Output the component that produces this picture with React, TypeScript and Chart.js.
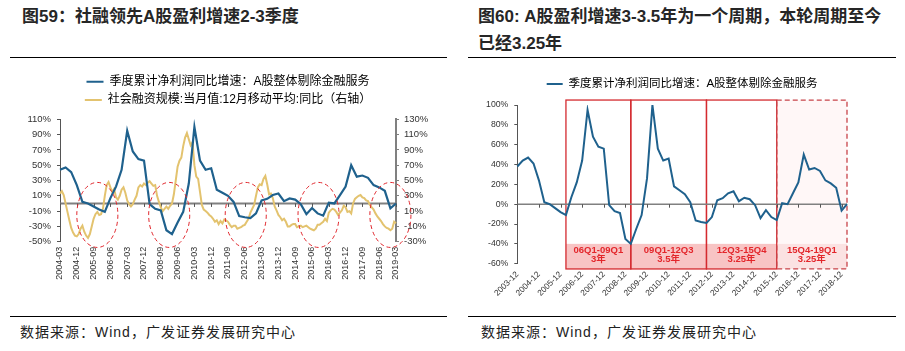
import React, { useEffect, useRef } from 'react';
import { Chart, registerables } from 'chart.js';

Chart.register(...registerables);

const FONT_LATIN = "'Liberation Sans', Arial, sans-serif";
const FONT_MIX = "'Liberation Sans', 'Noto Sans CJK SC', sans-serif";
const BLUE = '#1F618D';
const YELLOW = '#E3C36F';
const RED = '#D42A2F';

// ---------- categories ----------
const quarterLabels: string[] = [];
for (let yr = 2003; yr <= 2019; yr++) {
  for (const m of ['03', '06', '09', '12']) {
    const k = `${yr}-${m}`;
    if (k >= '2003-12' && k <= '2019-03') quarterLabels.push(k);
  }
}
const monthLabels: string[] = [];
for (let yr = 2004; yr <= 2019; yr++) {
  for (let m = 1; m <= 12; m++) {
    const k = `${yr}-${String(m).padStart(2, '0')}`;
    if (k >= '2004-03' && k <= '2019-03') monthLabels.push(k);
  }
}

// ---------- series ----------
// 季度累计净利润同比增速：A股整体剔除金融服务 (%), 2003-12 .. 2019-03 quarterly
const profitGrowth: number[] = [
  38, 44, 47, 41, 24, 2, 0, -4, -8, -11,
  7, 22, 44, 95, 68, 58, 56, -1, -7, -9,
  -35, -40, -25, -11, 26, 100, 56, 44, 46, 18,
  14, 10, 2, -16.5, -18, -19, -13, 4, 6, 11,
  13, 3, 6.5, 5, -1, -14, -6, -13, -16, 1,
  0, 11, 22, 50, 35, 36.5, 33.5, 24, 21, 16.5,
  -6.5, 0,
];

// 社会融资规模:当月值:12月移动平均:同比 (%), 2004-03 .. 2019-03 monthly
const tsfGrowth: number[] = [
  33, 36, 31, 20, 9, -2, -12, -18, -22, -23,
  -20, -13, -9, -17, -22, -25, -20, -10, 0, 6,
  9, 5, 6, 13, 30, 44, 48, 41, 35, 39,
  28, 25, 30, 38, 41, 34, 24, 19, 16, 19,
  25, 30, 41, 44, 42, 46, 44, 47, 49, 46,
  43, 44, 30, 22, 15, 10, 13, 16, 13, 17,
  20, 32, 50, 68, 76, 80, 95, 106, 112, 104,
  96, 100, 70, 55, 52, 35, 18, 12, 10, 8,
  5, 3, 0, -4, -2, -7, -3, -6, -1, -2,
  -4, -8, -11, -9, -9, -13, -12, -11, -9, -8,
  -4, 0, 8, 13, 18, 30, 41, 45, 44, 52,
  56, 45, 32, 33, 27, 16, 11, 5, 2, -2,
  0, -4, -10, -10, -8, -7, -7, -11, -10, -9,
  -11, -10, -9, -11, -13, -14, -15, -13, -8, -8,
  -6, -4, 0, -3, 8, 11, 13, 12, 9, 5,
  8, 11, 17, 15, 9, 10, 7, 20, 26, 28,
  30, 31, 28, 27, 24, 23, 18, 15, 12, 7,
  3, 0, -3, -7, -10, -12, -13, -15, -13, -4,
  -6,
];

// left chart: lead windows (red dashed ellipses), centred on month offsets from 2004-03
const leadWindowCenters: number[] = [20, 58.5, 99.5, 138.5, 177];
const leadWindowHalfMonths = 11;
const leadWindowCenterValue = -15;
const leadWindowHalfValue = 42.5;

// right chart: profit cycles
const cycleStart: string[] = ['2006-03', '2009-03', '2012-09', '2015-12'];
const cycleEnd: string[] = ['2009-03', '2012-09', '2015-12', '2019-03'];
const cycleNames: string[] = ['06Q1-09Q1', '09Q1-12Q3', '12Q3-15Q4', '15Q4-19Q1'];
const cycleYears: string[] = ['3年', '3.5年', '3.25年', '3.25年'];
const cycleBoxTop = 105;
const cycleBandTop = -40;
const cycleBoxBottom = -65.3;

const leftLegendProfit = '季度累计净利润同比增速：A股整体剔除金融服务';
const leftLegendTsf = '社会融资规模:当月值:12月移动平均:同比（右轴）';

// monthly table for left chart (profit only on quarter months)
const monthlyProfit = monthLabels.map((lab) => {
  const qi = quarterLabels.indexOf(lab);
  return qi >= 0 ? profitGrowth[qi] : null;
});

function legendHeightPlugin(h: number) {
  return {
    id: 'legendHeight',
    beforeInit(chart: any) {
      const legend = chart.legend;
      if (!legend) return;
      const orig = legend.fit;
      legend.fit = function () {
        orig.call(this);
        this.height = h;
      };
    },
  };
}

function zeroLinePlugin(every: number, color: string, width: number) {
  return {
    id: 'zeroLine',
    beforeDatasetsDraw(chart: any) {
      const { ctx, chartArea, scales } = chart;
      const x = scales.x;
      const y = scales.y;
      const y0 = y.getPixelForValue(0);
      ctx.save();
      ctx.strokeStyle = color;
      ctx.lineWidth = width;
      ctx.beginPath();
      ctx.moveTo(chartArea.left, y0);
      ctx.lineTo(chartArea.right, y0);
      ctx.stroke();
      ctx.lineWidth = 1;
      ctx.strokeStyle = '#555';
      ctx.beginPath();
      const n = chart.data.labels.length;
      for (let i = 0; i < n; i += every) {
        const px = Math.round(x.getPixelForValue(i)) + 0.5;
        ctx.moveTo(px, y0);
        ctx.lineTo(px, y0 + 3.5);
      }
      ctx.stroke();
      ctx.restore();
    },
  };
}

const ellipsePlugin = {
  id: 'leadWindows',
  afterDatasetsDraw(chart: any) {
    const { ctx, scales } = chart;
    const x = scales.x;
    const y = scales.y;
    ctx.save();
    ctx.strokeStyle = '#E0262C';
    ctx.lineWidth = 1;
    ctx.setLineDash([4, 3]);
    leadWindowCenters.forEach((c) => {
      const cx = x.getPixelForValue(c);
      const rx = x.getPixelForValue(c + leadWindowHalfMonths) - cx;
      const cy = y.getPixelForValue(leadWindowCenterValue);
      const ry = y.getPixelForValue(leadWindowCenterValue - leadWindowHalfValue) - cy;
      ctx.beginPath();
      ctx.ellipse(cx, cy, rx, ry, 0, 0, Math.PI * 2);
      ctx.stroke();
    });
    ctx.restore();
  },
};

const cyclePlugin = {
  id: 'cycles',
  beforeDraw(chart: any) {
    const { ctx, scales } = chart;
    const x = scales.x;
    const y = scales.y;
    const top = y.getPixelForValue(cycleBoxTop);
    const band = y.getPixelForValue(cycleBandTop);
    const bottom = y.getPixelForValue(cycleBoxBottom);
    ctx.save();
    const boxes = cycleStart.map((s, i) => ({
      x1: x.getPixelForValue(quarterLabels.indexOf(s)),
      x2: x.getPixelForValue(quarterLabels.indexOf(cycleEnd[i])),
      dashed: i === cycleStart.length - 1,
    }));
    boxes.forEach((b) => {
      if (b.dashed) {
        ctx.fillStyle = '#FFF7F7';
        ctx.fillRect(b.x1, top, b.x2 - b.x1, band - top);
      }
      ctx.fillStyle = b.dashed ? '#FBE2E2' : '#F8C4C4';
      ctx.fillRect(b.x1, band, b.x2 - b.x1, bottom - band);
    });
    boxes.forEach((b) => {
      ctx.strokeStyle = b.dashed ? '#C8444A' : RED;
      ctx.lineWidth = 1.3;
      ctx.setLineDash(b.dashed ? [5, 3] : []);
      ctx.strokeRect(b.x1, top, b.x2 - b.x1, bottom - top);
    });
    ctx.setLineDash([]);
    ctx.fillStyle = '#E3262B';
    ctx.textAlign = 'center';
    ctx.textBaseline = 'middle';
    ctx.font = `bold 9.5px ${FONT_MIX}`;
    boxes.forEach((b, i) => {
      const cx = (b.x1 + b.x2) / 2;
      ctx.fillText(cycleNames[i], cx, band + 6.5);
      ctx.fillText(cycleYears[i], cx, band + 16);
    });
    ctx.restore();
  },
};

function legendLabels(chart: any) {
  return chart.data.datasets.map((d: any, i: number) => ({
    text: d.label,
    fillStyle: d.borderColor,
    strokeStyle: d.borderColor,
    lineWidth: 0,
    hidden: false,
    datasetIndex: i,
  }));
}

function leftConfig(): any {
  return {
    type: 'line',
    data: {
      labels: monthLabels,
      datasets: [
        {
          label: leftLegendProfit,
          data: monthlyProfit,
          yAxisID: 'y',
          borderColor: BLUE,
          backgroundColor: BLUE,
          borderWidth: 2.2,
          pointRadius: 0,
          spanGaps: true,
          tension: 0,
        },
        {
          label: leftLegendTsf,
          data: tsfGrowth,
          yAxisID: 'y1',
          borderColor: YELLOW,
          backgroundColor: YELLOW,
          borderWidth: 2,
          pointRadius: 0,
          tension: 0,
        },
      ],
    },
    options: {
      responsive: false,
      animation: false,
      devicePixelRatio: 1,
      layout: { padding: { top: 9.4, left: 0, right: 0, bottom: 0 } },
      plugins: {
        tooltip: { enabled: false },
        legend: {
          display: true,
          position: 'top',
          fullSize: false,
          labels: {
            boxWidth: 17,
            boxHeight: 2,
            padding: 6.3,
            color: '#333',
            font: { size: 12, family: FONT_MIX },
            generateLabels: legendLabels,
          },
        },
      },
      scales: {
        x: {
          type: 'category',
          offset: false,
          grid: { display: false, drawTicks: false },
          border: { display: false },
          ticks: {
            autoSkip: false,
            minRotation: 90,
            maxRotation: 90,
            padding: 5,
            color: '#333',
            font: { size: 9, family: FONT_LATIN },
            callback: (_v: any, i: number) => (i % 9 === 0 ? monthLabels[i] : null),
          },
          afterFit: (s: any) => {
            s.height = 68.3;
          },
        },
        y: {
          position: 'left',
          min: -50,
          max: 110,
          grid: { drawOnChartArea: false, color: '#555', tickLength: 3 },
          border: { color: '#555', width: 1 },
          ticks: {
            stepSize: 20,
            padding: 6,
            color: '#333',
            font: { size: 9.5, family: FONT_LATIN },
            callback: (v: any) => `${v}%`,
          },
          afterFit: (s: any) => {
            s.width = 50;
          },
        },
        y1: {
          position: 'right',
          min: -30,
          max: 130,
          grid: { drawOnChartArea: false, color: '#808080', tickLength: 3 },
          border: { color: '#808080', width: 2 },
          ticks: {
            stepSize: 20,
            padding: 5,
            color: '#333',
            font: { size: 9.5, family: FONT_LATIN },
            callback: (v: any) => `${v}%`,
          },
          afterFit: (s: any) => {
            s.width = 51;
          },
        },
      },
    },
    plugins: [legendHeightPlugin(49.9), zeroLinePlugin(9, '#808080', 2), ellipsePlugin],
  };
}

function rightConfig(): any {
  return {
    type: 'line',
    data: {
      labels: quarterLabels,
      datasets: [
        {
          label: leftLegendProfit,
          data: profitGrowth,
          borderColor: BLUE,
          backgroundColor: BLUE,
          borderWidth: 2,
          pointRadius: 0,
          tension: 0,
        },
      ],
    },
    options: {
      responsive: false,
      animation: false,
      devicePixelRatio: 1,
      layout: { padding: { top: 12.25, left: 0, right: 50, bottom: 0 } },
      plugins: {
        tooltip: { enabled: false },
        legend: {
          display: true,
          position: 'top',
          fullSize: false,
          labels: {
            boxWidth: 16,
            boxHeight: 2,
            padding: 6,
            color: '#333',
            font: { size: 11.5, family: FONT_MIX },
            generateLabels: legendLabels,
          },
        },
      },
      scales: {
        x: {
          type: 'category',
          offset: false,
          grid: { display: false, drawTicks: false },
          border: { display: false },
          ticks: {
            autoSkip: false,
            minRotation: 45,
            maxRotation: 45,
            padding: 6,
            color: '#333',
            font: { size: 8.3, family: FONT_LATIN },
            callback: (_v: any, i: number) => (i % 4 === 0 ? quarterLabels[i] : null),
          },
          afterFit: (s: any) => {
            s.height = 46.3;
          },
        },
        y: {
          min: -60,
          max: 100,
          grid: { drawOnChartArea: false, color: '#555', tickLength: 3 },
          border: { color: '#555', width: 1 },
          ticks: {
            stepSize: 20,
            padding: 6,
            color: '#333',
            font: { size: 8.7, family: FONT_LATIN },
            callback: (v: any) => `${v}%`,
          },
          afterFit: (s: any) => {
            s.width = 52.3;
          },
        },
      },
    },
    plugins: [legendHeightPlugin(32.75), cyclePlugin, zeroLinePlugin(4, '#808080', 1.6)],
  };
}

const abs = (o: React.CSSProperties): React.CSSProperties => ({ position: 'absolute', ...o });

export default function App() {
  const leftRef = useRef<HTMLCanvasElement>(null);
  const rightRef = useRef<HTMLCanvasElement>(null);

  useEffect(() => {
    const l = new Chart(leftRef.current as HTMLCanvasElement, leftConfig());
    const r = new Chart(rightRef.current as HTMLCanvasElement, rightConfig());
    return () => {
      l.destroy();
      r.destroy();
    };
  }, []);

  const titleStyle: React.CSSProperties = {
    fontSize: 17,
    fontWeight: 700,
    lineHeight: '27px',
    color: '#262626',
    whiteSpace: 'nowrap',
    fontFamily: FONT_MIX,
  };
  const sourceStyle: React.CSSProperties = {
    fontSize: 14,
    lineHeight: '16px',
    letterSpacing: 1,
    color: '#222',
    whiteSpace: 'nowrap',
    fontFamily: FONT_MIX,
  };

  return (
    <div
      style={{
        position: 'absolute',
        left: 0,
        top: 0,
        width: 905,
        height: 351,
        background: '#fff',
        overflow: 'hidden',
        fontFamily: FONT_MIX,
      }}
    >
      <div style={abs({ left: 22, top: 2.5, ...titleStyle })}>图59：社融领先A股盈利增速2-3季度</div>
      <div style={abs({ left: 478, top: 2.5, ...titleStyle })}>
        图60: A股盈利增速3-3.5年为一个周期，本轮周期至今
        <br />
        已经3.25年
      </div>
      <div style={abs({ left: 10, top: 56.5, width: 437, height: 1.5, background: '#000' })} />
      <div style={abs({ left: 468, top: 56.5, width: 428, height: 1.5, background: '#000' })} />

      <canvas ref={leftRef} width={437} height={250} style={abs({ left: 10, top: 60 })} />
      <canvas ref={rightRef} width={432} height={250} style={abs({ left: 465, top: 60 })} />

      <div style={abs({ left: 10, top: 315.5, width: 437, height: 1.5, background: '#000' })} />
      <div style={abs({ left: 468, top: 315.5, width: 428, height: 1.5, background: '#000' })} />
      <div style={abs({ left: 20, top: 323.5, ...sourceStyle })}>数据来源：Wind，广发证券发展研究中心</div>
      <div style={abs({ left: 481, top: 323.5, ...sourceStyle })}>数据来源：Wind，广发证券发展研究中心</div>
    </div>
  );
}
